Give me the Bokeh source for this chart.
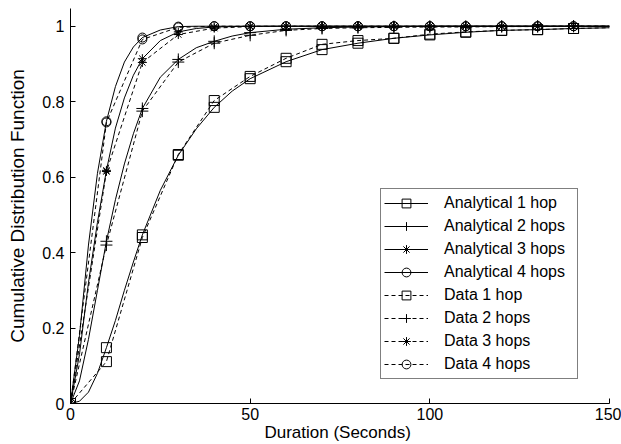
from bokeh.plotting import figure
from bokeh.models import Range1d, FixedTicker, CustomJSTickFormatter
from bokeh.embed import file_html
from bokeh.resources import INLINE

# ---- data ----
x_fine = [0, 2.5, 5, 7.5, 10, 12.5, 15, 17.5, 20, 25, 30, 35, 40, 45, 50,
          60, 70, 80, 90, 100, 110, 120, 130, 140, 150]
ana_1 = [0, 0.006, 0.03, 0.08, 0.148, 0.22, 0.30, 0.375, 0.447, 0.565, 0.658, 0.728, 0.785, 0.828, 0.861,
         0.906, 0.938, 0.955, 0.968, 0.977, 0.984, 0.989, 0.991, 0.994, 0.996]
ana_2 = [0, 0.06, 0.17, 0.30, 0.43, 0.54, 0.635, 0.715, 0.782, 0.865, 0.912, 0.943, 0.960, 0.974, 0.983,
         0.992, 0.996, 0.998, 0.999, 1.0, 1.0, 1.0, 1.0, 1.0, 1.0]
ana_3 = [0, 0.13, 0.32, 0.48, 0.618, 0.73, 0.81, 0.87, 0.914, 0.962, 0.985, 0.994, 0.998, 0.999, 1.0,
         1.0, 1.0, 1.0, 1.0, 1.0, 1.0, 1.0, 1.0, 1.0, 1.0]
ana_4 = [0, 0.18, 0.42, 0.61, 0.748, 0.84, 0.905, 0.945, 0.970, 0.990, 0.999, 1.0, 1.0, 1.0, 1.0,
         1.0, 1.0, 1.0, 1.0, 1.0, 1.0, 1.0, 1.0, 1.0, 1.0]

x_data = [0, 10, 20, 30, 40, 50, 60, 70, 80, 90, 100, 110, 120, 130, 140, 150]
data_1 = [0, 0.111, 0.44, 0.66, 0.803, 0.867, 0.915, 0.952, 0.962, 0.968, 0.979, 0.985, 0.989, 0.991, 0.994, 0.996]
data_2 = [0, 0.42, 0.775, 0.905, 0.955, 0.976, 0.989, 0.994, 0.996, 0.997, 0.998, 0.998, 0.999, 0.999, 1.0, 1.0]
data_3 = [0, 0.615, 0.904, 0.978, 0.995, 0.999, 1.0, 1.0, 1.0, 1.0, 1.0, 1.0, 1.0, 1.0, 1.0, 1.0]
data_4 = [0, 0.745, 0.965, 0.997, 1.0, 1.0, 1.0, 1.0, 1.0, 1.0, 1.0, 1.0, 1.0, 1.0, 1.0, 1.0]

marker_step = 10
marker_last = 140

labels_ana = ["Analytical 1 hop", "Analytical 2 hops", "Analytical 3 hops", "Analytical 4 hops"]
labels_data = ["Data 1 hop", "Data 2 hops", "Data 3 hops", "Data 4 hops"]
markers = ["square", "cross", "asterisk", "circle"]
marker_sizes = [10, 12, 9, 9]

x_ticks = [0, 50, 100, 150]
y_ticks = [0, 0.2, 0.4, 0.6, 0.8, 1]
x_title = "Duration  (Seconds)"
y_title = "Cumulative Distribution Function"

FONT = "Liberation Sans"

p = figure(width=621, height=444, output_backend="svg", toolbar_location=None,
           x_range=Range1d(0, 150), y_range=Range1d(0, 1.047),
           min_border_left=70, min_border_right=12, min_border_top=8, min_border_bottom=41)
p.outline_line_color = None
p.grid.visible = False
p.background_fill_color = "white"
p.border_fill_color = "white"


def pick(xs, ys):
    mx, my = [], []
    for a, b in zip(xs, ys):
        if a % marker_step == 0 and a <= marker_last:
            mx.append(a)
            my.append(b)
    return mx, my


ana = [ana_1, ana_2, ana_3, ana_4]
dat = [data_1, data_2, data_3, data_4]
for i in range(4):
    p.line(x_fine, ana[i], line_color="black", line_width=1, legend_label=labels_ana[i])
    mx, my = pick(x_fine, ana[i])
    p.scatter(mx, my, marker=markers[i], size=marker_sizes[i], line_color="black",
              fill_color=None, line_width=1, legend_label=labels_ana[i])
for i in range(4):
    p.line(x_data, dat[i], line_color="black", line_width=1, line_dash="4 3", legend_label=labels_data[i])
    mx, my = pick(x_data, dat[i])
    p.scatter(mx, my, marker=markers[i], size=marker_sizes[i], line_color="black",
              fill_color=None, line_width=1, legend_label=labels_data[i])

for ax in (p.xaxis[0], p.yaxis[0]):
    ax.axis_line_color = "black"
    ax.major_tick_line_color = "black"
    ax.minor_tick_line_color = None
    ax.major_tick_in = 5
    ax.major_tick_out = 0
    ax.major_label_text_font = FONT
    ax.major_label_text_color = "black"
    ax.major_label_text_font_size = "16px"
    ax.axis_label_text_font = FONT
    ax.axis_label_text_font_style = "normal"
    ax.axis_label_text_color = "black"

p.xaxis.major_label_standoff = 4
p.yaxis.major_label_standoff = 6
p.xaxis.ticker = FixedTicker(ticks=x_ticks)
p.yaxis.ticker = FixedTicker(ticks=y_ticks)
p.yaxis.formatter = CustomJSTickFormatter(code="return String(tick);")
p.xaxis.formatter = CustomJSTickFormatter(code="return String(tick);")
p.yaxis.axis_label = y_title
p.yaxis.axis_label_text_font_size = "19px"
p.yaxis.axis_label_standoff = 11
p.xaxis.axis_label = x_title
p.xaxis.axis_label_text_font_size = "17px"
p.xaxis.axis_label_standoff = 0

lg = p.legend[0]
lg.location = (310, 24)
lg.border_line_color = "black"
lg.border_line_width = 1
lg.background_fill_color = "white"
lg.background_fill_alpha = 1
lg.label_text_font = FONT
lg.label_text_font_size = "16px"
lg.label_text_color = "black"
lg.glyph_width = 44
lg.glyph_height = 22
lg.label_height = 22
lg.label_width = 130
lg.label_standoff = 16
lg.padding = 3
lg.spacing = 1
lg.margin = 0

open("out.html", "w").write(file_html(p, INLINE))
